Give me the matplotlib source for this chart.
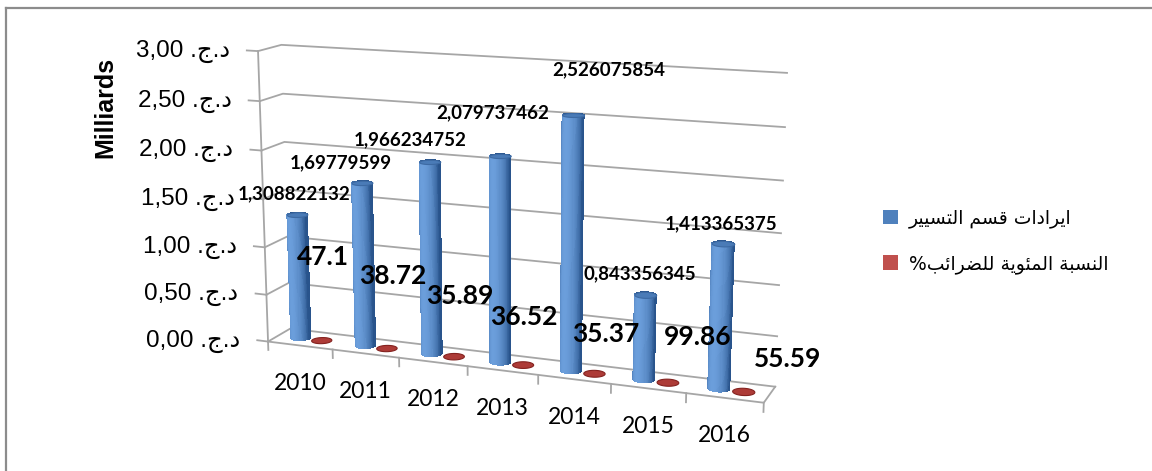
import numpy as np
import matplotlib
matplotlib.use("Agg")
import matplotlib.pyplot as plt
from matplotlib.lines import Line2D
from matplotlib.patches import Patch
from mpl_toolkits.mplot3d import proj3d
from mpl_toolkits.mplot3d.art3d import Poly3DCollection

# ---- data ----
years = ["2010", "2011", "2012", "2013", "2014", "2015", "2016"]
revenue = [1.308822132, 1.69779599, 1.966234752, 2.079737462,
           2.526075854, 0.843356345, 1.413365375]          # Milliards DZD
revenue_labels = ["1,308822132", "1,69779599", "1,966234752", "2,079737462",
                  "2,526075854", "0,843356345", "1,413365375"]
tax_pct = [47.1, 38.72, 35.89, 36.52, 35.37, 99.86, 55.59]
tax_labels = ["47.1", "38.72", "35.89", "36.52", "35.37", "99.86", "55.59"]
y_ticks = [0.0, 0.5, 1.0, 1.5, 2.0, 2.5, 3.0]
legend_names = ["ايرادات قسم التسيير", "النسبة المئوية للضرائب%"]
axis_title = "Milliards"
currency = ".ج.د"

# label placement (screen offsets in px)
rev_off = [(-3, 21), (-21, 20), (-20, 22), (-7, 43), (36, 45), (-5, 21), (-2, 20)]
pct_off = [(2, 83), (6, 72), (6, 60), (1, 48), (12, 39), (30, 45), (44, 32)]

BLUE_DARK = np.array([0.16, 0.33, 0.55])
BLUE_LIGHT = np.array([0.42, 0.62, 0.86])
RED = "#c0504d"
GRID = "#a6a6a6"

# minimal arabic shaping (matplotlib has no bidi / joining)
FORMS = {
    "ا": ("\uFE8D", "\uFE8E", None, None),
    "ب": ("\uFE8F", "\uFE90", "\uFE91", "\uFE92"),
    "ة": ("\uFE93", "\uFE94", None, None),
    "ت": ("\uFE95", "\uFE96", "\uFE97", "\uFE98"),
    "ج": ("\uFE9D", "\uFE9E", "\uFE9F", "\uFEA0"),
    "د": ("\uFEA9", "\uFEAA", None, None),
    "ر": ("\uFEAD", "\uFEAE", None, None),
    "س": ("\uFEB1", "\uFEB2", "\uFEB3", "\uFEB4"),
    "ض": ("\uFEBD", "\uFEBE", "\uFEBF", "\uFEC0"),
    "ق": ("\uFED5", "\uFED6", "\uFED7", "\uFED8"),
    "ل": ("\uFEDD", "\uFEDE", "\uFEDF", "\uFEE0"),
    "م": ("\uFEE1", "\uFEE2", "\uFEE3", "\uFEE4"),
    "ن": ("\uFEE5", "\uFEE6", "\uFEE7", "\uFEE8"),
    "و": ("\uFEED", "\uFEEE", None, None),
    "ي": ("\uFEF1", "\uFEF2", "\uFEF3", "\uFEF4"),
    "ئ": ("\uFE89", "\uFE8A", "\uFE8B", "\uFE8C"),
}


def shape_ar(text):
    out = []
    for i, ch in enumerate(text):
        if ch not in FORMS:
            out.append(ch)
            continue
        prev = text[i - 1] if i > 0 else ""
        nxt = text[i + 1] if i + 1 < len(text) else ""
        jp = prev in FORMS and FORMS[prev][2] is not None
        jn = nxt in FORMS and FORMS[ch][2] is not None
        iso, fin, ini, med = FORMS[ch]
        out.append(med if (jp and jn) else fin if jp else ini if jn else iso)
    return "".join(reversed(out))


fig = plt.figure(figsize=(11.52, 4.71), dpi=100)

# frame of the original chart object (left and top border only visible)
fig.add_artist(Line2D([6 / 1152, 6 / 1152], [0, 1 - 8 / 471], color="#8c8c8c", lw=1.6,
                      transform=fig.transFigure))
fig.add_artist(Line2D([6 / 1152, 1], [1 - 8 / 471, 1 - 8 / 471], color="#8c8c8c", lw=1.6,
                      transform=fig.transFigure))

S = 700
ax = fig.add_axes([(502 - S / 2) / 1152, (246 - S / 2) / 471, S / 1152, S / 471],
                  projection="3d", computed_zorder=False)
ax.set_axis_off()
D = 0.65
ZH = 4.06
ax.set_xlim(0, 7)
ax.set_ylim(0, D)
ax.set_zlim(0, 3)
ax.set_box_aspect((7, D, ZH), zoom=0.86)
AZIM = -69
ax.view_init(elev=13.5, azim=AZIM)
ax.set_proj_type("persp", focal_length=0.456)
M = ax.get_proj()


def p2(x, y, z):
    xs, ys, _ = proj3d.proj_transform(np.atleast_1d(x), np.atleast_1d(y),
                                      np.atleast_1d(z), M)
    return xs[0], ys[0]


n = len(years)

# walls / floor
for z in y_ticks:
    ax.plot([0, 0, n], [0, D, D], [z, z, z], color=GRID, lw=1.3, zorder=1)
ax.plot([0, n, n], [0, 0, D], [0, 0, 0], color=GRID, lw=1.3, zorder=1)
ax.plot([0, 0], [0, 0], [0, 3], color=GRID, lw=1.3, zorder=1)
for z in y_ticks:
    ax.plot([-0.17, 0], [0, 0], [z, z], color=GRID, lw=1.3, zorder=1)
for i in range(n + 1):
    ax.plot([i, i], [0, 0], [0, -0.09], color=GRID, lw=1.3, zorder=1)


def cylinder(xc, yc, r, h, dark, light, top_col, edge_col, zo):
    t = np.linspace(0, 2 * np.pi, 73)
    T, Z = np.meshgrid(t, [0, h])
    X = xc + r * np.cos(T)
    Y = yc + r * np.sin(T)
    L = np.deg2rad(AZIM - 40)
    f = np.clip(np.cos(T - L), 0, 1) ** 0.9
    cols = dark[None, None, :] + (light - dark)[None, None, :] * f[..., None]
    cols = np.concatenate([cols, np.ones(cols.shape[:2] + (1,))], axis=2)
    if h > 0.01:
        ax.plot_surface(X, Y, Z, facecolors=cols, shade=False, linewidth=0,
                        antialiased=False, rstride=1, cstride=1, zorder=zo)
    cap = Poly3DCollection([list(zip(xc + r * np.cos(t), yc + r * np.sin(t),
                                     np.full_like(t, h)))],
                           facecolor=top_col, edgecolor=edge_col, linewidths=0.8,
                           zorder=zo + 0.5)
    ax.add_collection3d(cap)


def label(txt, pos, dx, dy, **kw):
    ax.annotate(txt, xy=pos, xycoords="data", xytext=(dx * 0.72, dy * 0.72),
                textcoords="offset points", ha=kw.pop("ha", "center"),
                va=kw.pop("va", "center"), zorder=6, annotation_clip=False, **kw)


for i in range(n):
    xb = i + 0.5 - 0.16
    xr = i + 0.5 + 0.16
    cylinder(xb, D / 2, 0.14, revenue[i], BLUE_DARK, BLUE_LIGHT, "#4a7bb7", "#3d6aa3", 3 + i * 0.01)
    cylinder(xr, D / 2, 0.14, tax_pct[i] / 1e9, np.array([0.55, 0.15, 0.14]),
             np.array([0.75, 0.3, 0.28]), "#ad3b37", "#84221f", 3.2 + i * 0.01)

    label(revenue_labels[i], p2(xb, D / 2, revenue[i]), *rev_off[i],
          fontsize=13.5, fontweight="bold", family="Lato")
    label(tax_labels[i], p2(xr, D / 2, 0), *pct_off[i],
          fontsize=19, fontweight="bold", family="Lato")
    label(years[i], p2(i + 0.5, 0, 0), 0, -38, fontsize=16.5, family="Lato")

for z in y_ticks:
    lab = f"{z:.2f}".replace(".", ",") + " " + currency
    label(lab, p2(0, 0, z), -28, 0, ha="right", fontsize=17.5,
          family=["Liberation Sans", "DejaVu Sans"])

fig.text(105 / 1152, 1 - 107 / 471, axis_title, rotation=90, ha="center", va="center",
         fontsize=18, fontweight="bold", family="Liberation Sans")

handles = [Patch(facecolor="#4f81bd", edgecolor="none"),
           Patch(facecolor=RED, edgecolor="none")]
fig.legend(handles, [shape_ar(s) for s in legend_names], loc="center left",
           bbox_to_anchor=(866 / 1152, 1 - 241 / 471), frameon=False,
           prop={"family": "DejaVu Sans", "size": 13.5}, handlelength=0.8,
           handleheight=0.8, handletextpad=0.6, labelspacing=1.4)

fig.savefig("out.png", dpi=100)
